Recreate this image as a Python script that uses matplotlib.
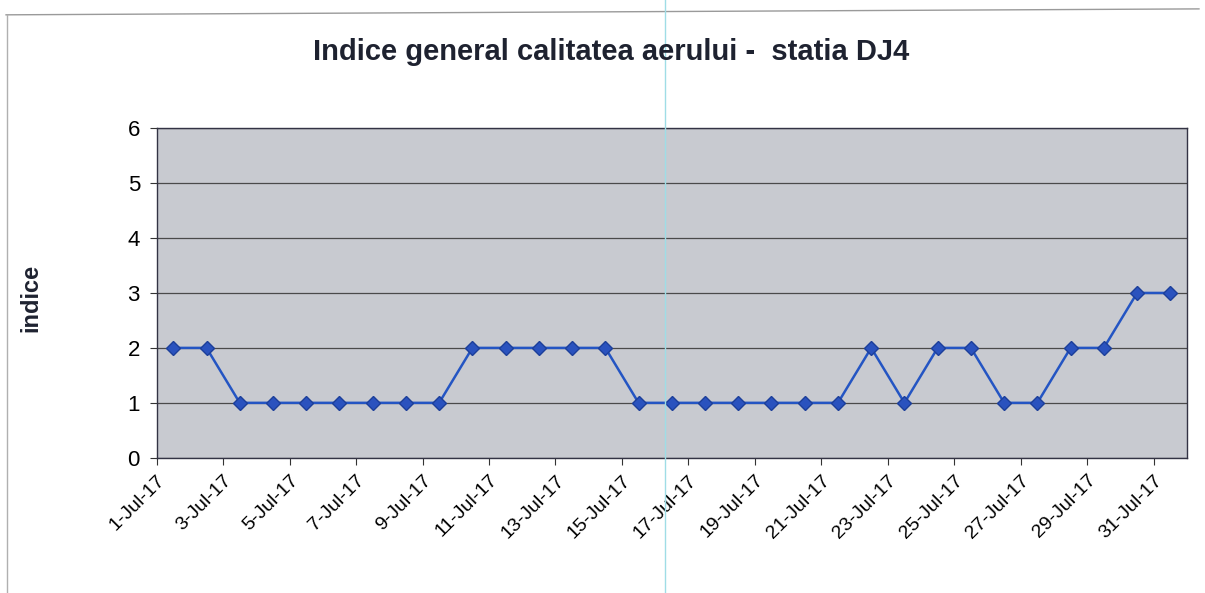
import matplotlib.pyplot as plt
from matplotlib.lines import Line2D

# date (iulie 2017) si indicele general
zile = list(range(1, 32))
indice = [2, 2, 1, 1, 1, 1, 1, 1, 1, 2, 2, 2, 2, 2, 1, 1,
          1, 1, 1, 1, 1, 2, 1, 2, 2, 1, 1, 2, 2, 3, 3]
etichete = [f"{z}-Jul-17" for z in zile[::2]]

plt.rcParams["font.family"] = ["Liberation Sans", "DejaVu Sans"]

fig = plt.figure(figsize=(12.05, 5.93), dpi=100)
ax = fig.add_axes([0.130, 0.228, 0.855, 0.556])

ax.set_facecolor("#c8cad0")
ax.grid(axis="y", color="#4a4a4a", linewidth=0.9)
ax.set_axisbelow(True)

x = list(range(len(zile)))
ax.plot(x, indice, color="#2455c3", linewidth=1.8, marker="D",
        markersize=7.5, markerfacecolor="#2a52be", markeredgecolor="#1c3f9a")

ax.set_xlim(-0.5, len(zile) - 0.5)
ax.set_ylim(0, 6)
ax.set_yticks(range(0, 7))
ax.tick_params(axis="y", labelsize=16, length=5, color="#333333", pad=7)

ax.set_xticks([i - 0.5 for i in range(0, len(zile), 2)])
ax.set_xticklabels(etichete, rotation=45, ha="right", va="top",
                   rotation_mode="anchor", fontsize=14)
ax.tick_params(axis="x", length=5, color="#333333", pad=5)

for s in ax.spines.values():
    s.set_color("#333344")
    s.set_linewidth(1.0)

fig.text(0.507, 0.913, "Indice general calitatea aerului -  statia DJ4",
         ha="center", va="center", fontsize=21, fontweight="bold",
         color="#1e2230")
fig.text(0.026, 0.497, "indice", rotation=90, ha="center", va="center",
         fontsize=17, fontweight="bold", color="#1e2230")

# chenarul graficului scanat
fig.add_artist(Line2D([0.005, 0.995], [0.975, 0.985], color="#9a9a9a",
                      linewidth=1.0, transform=fig.transFigure))
fig.add_artist(Line2D([0.006, 0.006], [0.975, 0.0], color="#b0b0b0",
                      linewidth=1.0, transform=fig.transFigure))
fig.add_artist(Line2D([0.552, 0.552], [0.0, 1.0], color="#9fdde6",
                      linewidth=1.0, transform=fig.transFigure))

plt.savefig("out.png", dpi=100)
